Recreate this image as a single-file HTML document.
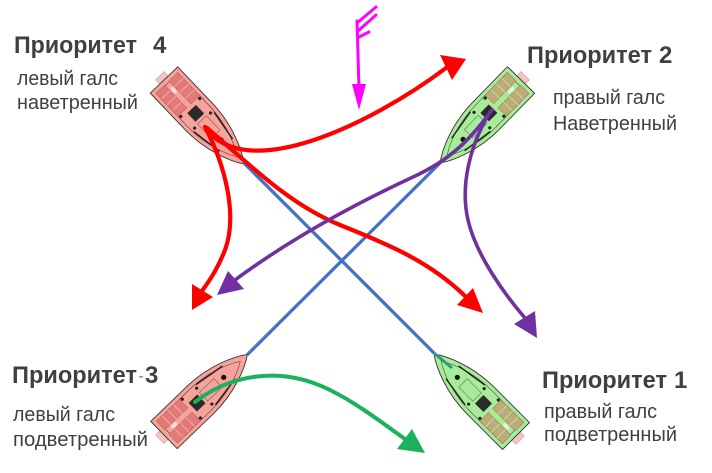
<!DOCTYPE html>
<html><head><meta charset="utf-8"><style>
html,body{margin:0;padding:0;background:#fff;}
svg{display:block;}
text{font-family:"Liberation Sans","Noto Sans CJK SC",sans-serif;fill:#404040;}
.t{font-weight:bold;font-size:24px;}
.s{font-size:20px;}
</style></head><body>
<svg width="712" height="473" viewBox="0 0 712 473" xmlns="http://www.w3.org/2000/svg">
<defs>
<g id="redboat">
  <rect x="-6" y="-6" width="7" height="12" fill="#f2c4c4" stroke="#d9a0a0" stroke-width="0.6"/>
  <path d="M0,-19 L50,-19 C80,-19 105,-8 116,0 C105,8 80,19 50,19 L0,19 Z" fill="#f6a39c" stroke="#333" stroke-width="0.9"/>
  <path d="M5,-15 L50,-15 C75,-15 95,-7 106,0 C95,7 75,15 50,15 L5,15 Z" fill="none" stroke="#5a3a3a" stroke-width="0.6"/>
  <rect x="4" y="-15" width="32" height="12" fill="#e27a77" stroke="#c45a5a" stroke-width="0.5"/>
  <rect x="4" y="3" width="32" height="12" fill="#e27a77" stroke="#c45a5a" stroke-width="0.5"/>
  <path d="M12,-15 V-3 M20,-15 V-3 M28,-15 V-3 M12,3 V15 M20,3 V15 M28,3 V15" stroke="#f3a8a4" stroke-width="1"/>
  <ellipse cx="14" cy="0" rx="4" ry="2" fill="#f8dede"/>
  <rect x="40" y="-6" width="12" height="12" fill="#2a2a2a"/>
  <rect x="55" y="-6" width="20" height="12" fill="none" stroke="#8a5a5a" stroke-width="0.6"/>
  <path d="M58,-14 L90,-9 M58,14 L90,9" stroke="#222" stroke-width="1.4"/>
  <circle cx="38" cy="-13" r="1.6" fill="#222"/><circle cx="38" cy="13" r="1.6" fill="#222"/>
  <circle cx="56" cy="-11" r="1.6" fill="#222"/><circle cx="56" cy="11" r="1.6" fill="#222"/>
  <circle cx="83" cy="0" r="2.6" fill="#111"/>
</g>
<g id="greenboat">
  <rect x="-6" y="-6" width="7" height="12" fill="#f2c4c4" stroke="#d9a0a0" stroke-width="0.6"/>
  <path d="M0,-19 L50,-19 C80,-19 105,-8 116,0 C105,8 80,19 50,19 L0,19 Z" fill="#a8eb9a" stroke="#333" stroke-width="0.9"/>
  <path d="M5,-15 L50,-15 C75,-15 95,-7 106,0 C95,7 75,15 50,15 L5,15 Z" fill="none" stroke="#3a5a3a" stroke-width="0.6"/>
  <rect x="4" y="-15" width="32" height="12" fill="#c2aa78" stroke="#8f7a50" stroke-width="0.5"/>
  <rect x="4" y="3" width="32" height="12" fill="#c2aa78" stroke="#8f7a50" stroke-width="0.5"/>
  <path d="M12,-15 V-3 M20,-15 V-3 M28,-15 V-3 M12,3 V15 M20,3 V15 M28,3 V15" stroke="#a8e89a" stroke-width="1"/>
  <ellipse cx="14" cy="0" rx="4" ry="2" fill="#e8f0e0"/>
  <rect x="40" y="-6" width="12" height="12" fill="#2a2a2a"/>
  <rect x="55" y="-6" width="20" height="12" fill="none" stroke="#5a7a5a" stroke-width="0.6"/>
  <path d="M58,-14 L90,-9 M58,14 L90,9" stroke="#222" stroke-width="1.4"/>
  <circle cx="38" cy="-13" r="1.6" fill="#222"/><circle cx="38" cy="13" r="1.6" fill="#222"/>
  <circle cx="56" cy="-11" r="1.6" fill="#222"/><circle cx="56" cy="11" r="1.6" fill="#222"/>
  <circle cx="83" cy="0" r="2.6" fill="#111"/>
</g>
</defs>

<!-- boats -->
<use href="#redboat" transform="translate(164,80) rotate(46.4)"/>
<use href="#greenboat" transform="translate(521,80) rotate(134.3)"/>
<use href="#redboat" transform="translate(164,435) rotate(-44)"/>
<use href="#greenboat" transform="translate(516,436) rotate(-135)"/>

<!-- blue lines -->
<line x1="243" y1="162" x2="434" y2="353" stroke="#4472c4" stroke-width="3.3"/>
<line x1="443" y1="160" x2="247" y2="355" stroke="#4472c4" stroke-width="3.3"/>
<line x1="434" y1="353" x2="452" y2="368" stroke="#2f9a86" stroke-width="3"/>

<!-- red -->
<g fill="none" stroke="#ff0000" stroke-width="4.2" stroke-linecap="round">
  <path d="M205,127 C245,185 370,125 446,68"/>
  <path d="M207,128 C250,165 290,205 340,225 C390,245 430,262 465,296"/>
  <path d="M205,127 C225,165 238,215 225,250 C218,268 210,280 202,291"/>
</g>
<g fill="#ff0000">
  <polygon points="440,55 452,80 466,59"/>
  <polygon points="473,288 457,305 483,313"/>
  <polygon points="192,284 213,297 192,310"/>
</g>

<!-- purple -->
<g fill="none" stroke="#7030a0" stroke-width="3.6" stroke-linecap="round">
  <path d="M492,110 C470,140 450,160 413,177 C370,197 300,232 235,280"/>
  <path d="M490,112 C470,145 460,185 468,220 C476,255 505,295 525,318"/>
</g>
<g fill="#7030a0">
  <polygon points="228,271 244,289 217,295"/>
  <polygon points="535,311 514,324 537,338"/>
</g>

<!-- green -->
<path d="M195,402 C230,375 280,365 330,390 C360,405 385,425 405,439" fill="none" stroke="#1cb15c" stroke-width="4" stroke-linecap="round"/>
<polygon points="412,429 397,449 425,453" fill="#1cb15c"/>

<!-- wind -->
<g stroke="#ff00ff" stroke-width="3" fill="none" stroke-linecap="round">
  <path d="M357,21 L359,88"/>
  <path d="M357,23 L376,7 M358,31 L376,15 M359,37 L369,32"/>
</g>
<polygon points="352,84 366,84 359,110" fill="#ff00ff"/>

<!-- texts -->
<text class="t" x="14" y="53" textLength="123" lengthAdjust="spacingAndGlyphs">Приоритет</text>
<text class="t" x="153" y="53">4</text>
<text class="s" x="17" y="85" textLength="101" lengthAdjust="spacingAndGlyphs">левый галс</text>
<text class="s" x="17" y="109" textLength="121" lengthAdjust="spacingAndGlyphs">наветренный</text>

<text class="t" x="527" y="63" textLength="125" lengthAdjust="spacingAndGlyphs">Приоритет</text>
<text class="t" x="659" y="63">2</text>
<text class="s" x="553" y="104" textLength="112" lengthAdjust="spacingAndGlyphs">правый галс</text>
<text class="s" x="553" y="130" textLength="124" lengthAdjust="spacingAndGlyphs">Наветренный</text>

<text class="t" x="12" y="383" textLength="125" lengthAdjust="spacingAndGlyphs">Приоритет</text>
<rect x="139" y="376" width="4" height="1.5" fill="#e87a5a"/>
<text class="t" x="145" y="383">3</text>
<text class="s" x="13" y="421" textLength="102" lengthAdjust="spacingAndGlyphs">левый галс</text>
<text class="s" x="13" y="446" textLength="135" lengthAdjust="spacingAndGlyphs">подветренный</text>

<text class="t" x="542" y="388" textLength="125" lengthAdjust="spacingAndGlyphs">Приоритет</text>
<text class="t" x="674" y="388">1</text>
<text class="s" x="544" y="418" textLength="113" lengthAdjust="spacingAndGlyphs">правый галс</text>
<text class="s" x="544" y="441" textLength="133" lengthAdjust="spacingAndGlyphs">подветренный</text>
</svg>
</body></html>
